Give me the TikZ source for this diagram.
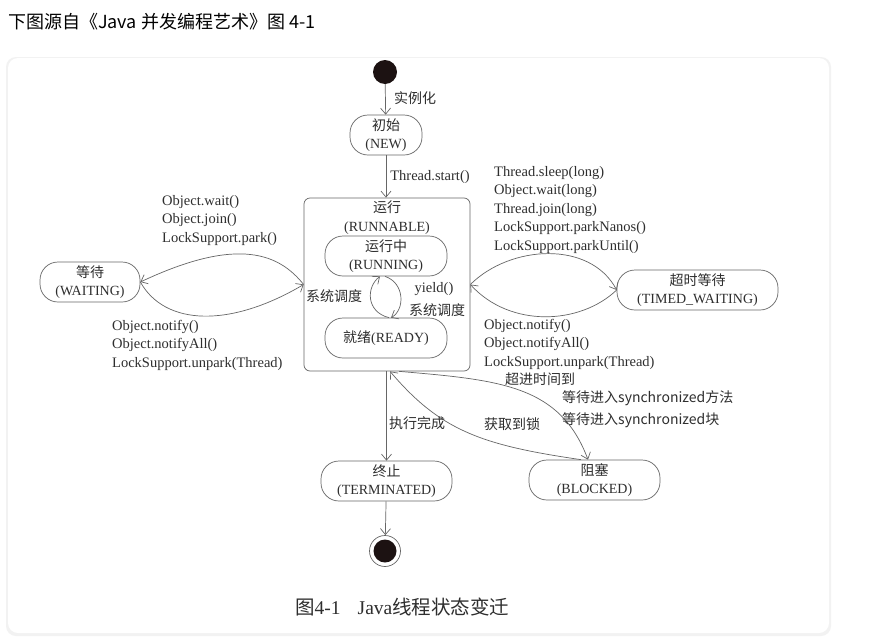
\documentclass[tikz,border=0pt]{standalone}
\usepackage{fontspec}
\setmainfont{Liberation Serif}
\newfontfamily\cjk{Noto Sans CJK SC}
\usetikzlibrary{arrows.meta,positioning}
\definecolor{ink}{HTML}{2E2E2E}
\definecolor{edge}{HTML}{666666}
\definecolor{dot}{HTML}{1C1212}
\tikzset{
  state/.style={draw=edge, line width=0.7pt, rounded corners=18pt
    , minimum height=40pt, align=center, text=ink, inner sep=0pt
    , font=\fontsize{14}{18}\selectfont},
  arr/.style={draw=edge, line width=0.7pt, -{Straight Barb[length=6pt,width=10pt]}},
  lbl/.style={text=ink, inner sep=0pt, align=left, font=\fontsize{14.5}{18.5}\selectfont},
}
\begin{document}
\begin{tikzpicture}[x=1pt,y=-1pt]
        \useasboundingbox (0,0) rectangle (886,643);
        \fill[white] (0,0) rectangle (886,643);
        % card
        \fill[black!5, rounded corners=10pt] (6,57) rectangle (831,636);
        \fill[white, rounded corners=10pt] (8,58) rectangle (829,633);
        \node[anchor=west, inner sep=0pt, font=\cjk\fontsize{18}{20}\selectfont] (title) at (8,22) {下图源自《Java 并发编程艺术》图 4-1};

        % states
        \node[circle, fill=dot, minimum size=24pt, inner sep=0pt] (init) at (385,72) {};
        \node[state, minimum width=72pt] (new) at (386,135) {{\cjk 初始}\\(NEW)};
        \node[draw=edge, line width=0.7pt, rounded corners=6pt
        , minimum width=166pt
        , minimum height=173pt
        , label={[lbl, anchor=north, align=center, yshift=-3pt, font=\fontsize{14}{19}\selectfont]north:{\cjk 运行}\\(RUNNABLE)}
        ] (runnable) at (387,284.5) {};
        \node[state, minimum width=122pt] (running) at (386,256) {{\cjk 运行中}\\(RUNNING)};
        \node[state, minimum width=122pt] (ready) at (386,338) {{\cjk 就绪}(READY)};
        \node[state, minimum width=100pt] (wait) at (90,282) {{\cjk 等待}\\(WAITING)};
        \node[state, minimum width=161pt] (timed) at (697.5,290) {{\cjk 超时等待}\\(TIMED\_WAITING)};
        \node[state, minimum width=131pt] (term) at (386.5,481) {{\cjk 终止}\\(TERMINATED)};
        \node[state, minimum width=131pt] (blocked) at (594.5,480) {{\cjk 阻塞}\\(BLOCKED)};
        \node[circle, draw=edge, line width=0.7pt, minimum size=31pt, inner sep=0pt] (final) at (385,551) {};
        \node[circle, fill=dot, minimum size=23pt, inner sep=0pt] at (final) {};

        % transitions
        \draw[arr] (init) -- (new);
        \draw[arr] (new) -- (new |- runnable.north);
        \draw[arr] (runnable.south -| term) -- (term);
        \draw[arr] (term) -- (final);
        \draw[arr] (ready.north -| 389,0) .. controls (366,312) and (366,287) .. (running.south -| 380,0);
        \draw[arr] (running.south -| 385,0) .. controls (405,283) and (405,310) .. (ready.north -| 391,0);
        \draw[arr] (runnable.west) .. controls (280,255) and (240,235) .. (wait.east);
        \draw[arr] (wait.east) .. controls (165,326) and (230,328) .. (runnable.west);
        \draw[arr] (runnable.east) .. controls (510,245) and (590,240) .. (timed.west);
        \draw[arr] (timed.west) .. controls (580,325) and (510,328) .. (runnable.east);
        \draw[arr] (runnable.south -| 399,0) .. controls (500,380) and (560,385) .. (blocked.north -| 588,0);
        \draw[arr] (blocked.north -| 581,0) .. controls (480,445) and (440,430) .. (runnable.south -| 390,0);

        % labels
        \node[lbl, font=\cjk\fontsize{14}{18}\selectfont] (lnew) at (415,98) {实例化};
        \node[lbl] (lstart) at (430,177) {Thread.start()};
        \node[lbl, font=\cjk\fontsize{14}{18}\selectfont] (lsched) at (334,296) {系统调度};
        \node[lbl] (lyield) at (434,289) {yield()};
        \node[lbl, font=\cjk\fontsize{14}{18}\selectfont] (lsched2) at (437,310) {系统调度};
        \node[lbl, anchor=north west] (ltowait) at (162,195) {Object.wait()\\Object.join()\\LockSupport.park()};
        \node[lbl, anchor=north west] (lfromwait) at (112,320) {Object.notify()\\Object.notifyAll()\\LockSupport.unpark(Thread)};
        \node[lbl, anchor=north west] (ltotimed) at (494,166) {Thread.sleep(long)\\Object.wait(long)\\Thread.join(long)\\LockSupport.parkNanos()\\LockSupport.parkUntil()};
        \node[lbl, anchor=north west] (lfromtimed) at (484,319) {Object.notify()\\Object.notifyAll()\\LockSupport.unpark(Thread)};
        \node[lbl, font=\cjk\fontsize{14}{18}\selectfont] (ltimeout) at (540,379) {超进时间到};
        \node[lbl, anchor=west, font=\cjk\fontsize{14}{18}\selectfont] (lsync1) at (562,398) {等待进入synchronized方法};
        \node[lbl, anchor=west, font=\cjk\fontsize{14}{18}\selectfont] (lsync2) at (562,420) {等待进入synchronized块};
        \node[lbl, font=\cjk\fontsize{14}{18}\selectfont] (llock) at (512,424) {获取到锁};
        \node[lbl, font=\cjk\fontsize{14}{18}\selectfont] (ldone) at (417,423) {执行完成};

        % caption
        \node[lbl, anchor=west, font=\fontsize{19.5}{22}\selectfont] (caption) at (295,607) {{\cjk 图}4-1\hspace{17pt}Java{\cjk 线程状态变迁}};
    \end{tikzpicture}
\end{document}
